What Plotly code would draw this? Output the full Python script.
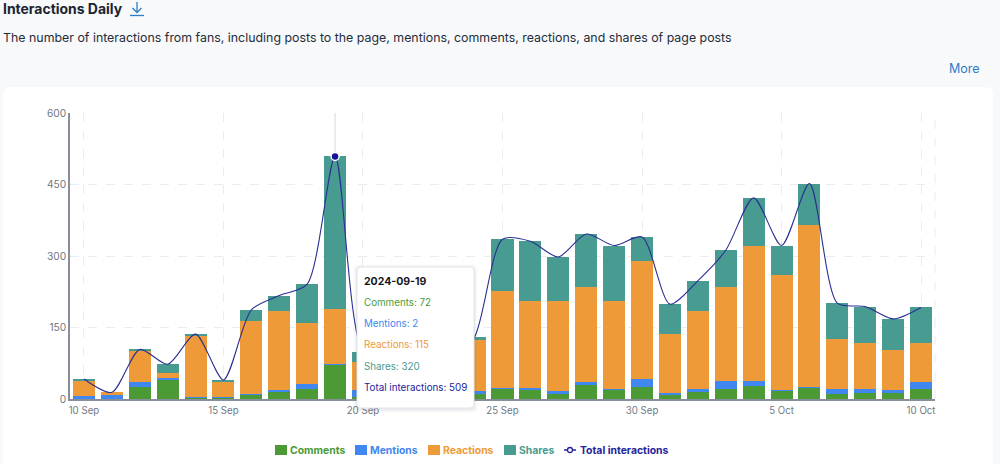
import plotly.graph_objects as go

days = ["2024-09-10", "2024-09-11", "2024-09-12", "2024-09-13", "2024-09-14", "2024-09-15",
        "2024-09-16", "2024-09-17", "2024-09-18", "2024-09-19", "2024-09-20", "2024-09-21",
        "2024-09-22", "2024-09-23", "2024-09-24", "2024-09-25", "2024-09-26", "2024-09-27",
        "2024-09-28", "2024-09-29", "2024-09-30", "2024-10-01", "2024-10-02", "2024-10-03",
        "2024-10-04", "2024-10-05", "2024-10-06", "2024-10-07", "2024-10-08", "2024-10-09",
        "2024-10-10"]

# 21-23 Sep sit behind the tooltip in the reference, those are guesses
comments = [1, 1, 26, 41, 4, 3, 9, 15, 22, 72, 5, 8, 6, 7, 11, 21, 20, 10, 31, 20, 26, 8, 14, 22, 27, 18, 24, 11, 12, 13, 22]
mentions = [6, 8, 9, 3, 1, 1, 2, 4, 10, 2, 14, 4, 3, 3, 5, 3, 4, 7, 4, 1, 15, 5, 7, 16, 10, 1, 1, 11, 9, 5, 14]
reactions = [31, 5, 66, 11, 128, 33, 152, 166, 127, 115, 58, 50, 38, 45, 108, 203, 182, 189, 199, 184, 248, 123, 164, 196, 283, 242, 339, 103, 97, 84, 82]
shares = [4, 0, 3, 18, 3, 3, 24, 32, 82, 320, 22, 15, 10, 12, 6, 108, 125, 92, 112, 117, 51, 63, 63, 78, 102, 61, 88, 76, 76, 66, 74]
totals = [42, 14, 104, 73, 136, 40, 187, 217, 241, 509, 99, 77, 57, 67, 130, 335, 331, 298, 346, 322, 340, 199, 248, 312, 422, 322, 452, 201, 194, 168, 192]

tick_days = ["2024-09-10", "2024-09-15", "2024-09-20", "2024-09-25", "2024-09-30", "2024-10-05", "2024-10-10"]
tick_labels = ["10 Sep", "15 Sep", "20 Sep", "25 Sep", "30 Sep", "5 Oct", "10 Oct"]
y_ticks = [0, 150, 300, 450, 600]

hover_day = "2024-09-19"
hover_idx = days.index(hover_day)

GREEN = "#4c9a36"
BLUE = "#4187f0"
ORANGE = "#ee9a38"
TEAL = "#489b90"
NAVY = "#2b2f93"
NAVY_TEXT = "#25249a"
LINK = "#2f7cc8"
FONT = "Inter"

W, H = 1000, 464
L, R, T, B = 70, 935, 113, 399


def px(x):
    return (x - L) / (R - L)


def py(y):
    return (B - y) / (B - T)


def round_rect(x0, y0, x1, y1, r):
    # rounded box in paper coords, given in pixels
    a, b, c, d = px(x0), px(x1), py(y0), py(y1)
    rx = r / (R - L)
    ry = r / (B - T)
    return (f"M{a + rx},{c} L{b - rx},{c} Q{b},{c} {b},{c - ry} L{b},{d + ry} Q{b},{d} {b - rx},{d} "
            f"L{a + rx},{d} Q{a},{d} {a},{d + ry} L{a},{c - ry} Q{a},{c} {a + rx},{c} Z")


fig = go.Figure()
for name, vals, col in [("Comments", comments, GREEN), ("Mentions", mentions, BLUE),
                        ("Reactions", reactions, ORANGE), ("Shares", shares, TEAL)]:
    fig.add_trace(go.Bar(x=days, y=vals, name=name, marker=dict(color=col, line_width=0)))

fig.add_trace(go.Scatter(x=days, y=totals, mode="lines", name="Total interactions",
                         line=dict(color=NAVY, width=1.1, shape="spline", smoothing=0.75)))
fig.add_trace(go.Scatter(x=[hover_day], y=[totals[hover_idx]], mode="markers",
                         marker=dict(color="#14149a", size=8, line=dict(color="white", width=1.5))))

shapes = [
    # page card
    dict(type="path", xref="paper", yref="paper", layer="below", path=round_rect(3, 87, 993, 480, 8),
         fillcolor="white", line_width=0),
    # right edge grid line
    dict(type="line", xref="paper", yref="paper", layer="below", x0=1, x1=1, y0=0, y1=1,
         line=dict(color="#e9ecf1", width=1, dash="dash")),
    # hover pointer
    dict(type="line", x0=hover_day, x1=hover_day, y0=totals[hover_idx], y1=600, layer="below",
         line=dict(color="#d5d8dd", width=1)),
    # download icon
    dict(type="line", xref="paper", yref="paper", x0=px(137), x1=px(137), y0=py(2), y1=py(12),
         line=dict(color=LINK, width=1.3)),
    dict(type="path", xref="paper", yref="paper", path=f"M{px(132.5)},{py(8)} L{px(137)},{py(12.5)} L{px(141.5)},{py(8)}",
         line=dict(color=LINK, width=1.3)),
    dict(type="line", xref="paper", yref="paper", x0=px(130), x1=px(144), y0=py(15.5), y1=py(15.5),
         line=dict(color=LINK, width=1.3)),
]
# tooltip shadow then box
for grow, alpha in [(4, 0.015), (3, 0.02), (2, 0.03), (1, 0.04)]:
    shapes.append(dict(type="path", xref="paper", yref="paper",
                       path=round_rect(357 - grow, 267 - grow + 1, 474 + grow, 408 + grow + 1, 5),
                       fillcolor=f"rgba(60,70,90,{alpha})", line_width=0))
shapes.append(dict(type="path", xref="paper", yref="paper", path=round_rect(357, 267, 474, 408, 4),
                   fillcolor="white", line=dict(color="#e3e6ea", width=1)))


def text_at(x, y, text, size, color, anchor="left"):
    return dict(xref="paper", yref="paper", x=px(x), y=py(y), text=text, showarrow=False,
                xanchor=anchor, yanchor="middle", align=anchor, borderpad=0, borderwidth=0,
                font=dict(family=FONT, size=size, color=color))


annotations = [
    text_at(3, 8, "<b>Interactions Daily</b>", 13.95, "#1c2430"),
    text_at(3, 38, "The number of interactions from fans, including posts to the page, mentions, comments, reactions, and shares of page posts", 12.38, "#252c38"),
    text_at(980, 68.5, "More", 12.5, LINK, "right"),
    text_at(364, 281, f"<b>{hover_day}</b>", 10.5, "#15181d"),
    text_at(364, 302, f"Comments: {comments[hover_idx]}", 9.8, GREEN),
    text_at(364, 323, f"Mentions: {mentions[hover_idx]}", 9.8, BLUE),
    text_at(364, 344.5, f"Reactions: {reactions[hover_idx]}", 9.8, ORANGE),
    text_at(364, 366, f"Shares: {shares[hover_idx]}", 9.8, TEAL),
    text_at(364, 387, f"Total interactions: {totals[hover_idx]}", 9.8, NAVY_TEXT),
]

# legend drawn by hand, the native one cannot get this tight
for label, col, x0 in [("Comments", GREEN, 275), ("Mentions", BLUE, 355), ("Reactions", ORANGE, 428), ("Shares", TEAL, 504)]:
    shapes.append(dict(type="rect", xref="paper", yref="paper", x0=px(x0), x1=px(x0 + 12), y0=py(445), y1=py(455),
                       fillcolor=col, line_width=0))
    annotations.append(text_at(x0 + 15, 450, f"<b>{label}</b>", 10.4, col))
shapes.append(dict(type="line", xref="paper", yref="paper", x0=px(564), x1=px(576), y0=py(450), y1=py(450),
                   line=dict(color=NAVY_TEXT, width=1.5)))
shapes.append(dict(type="circle", xref="paper", yref="paper", x0=px(567.5), x1=px(572.5), y0=py(447.5), y1=py(452.5),
                   fillcolor="white", line=dict(color=NAVY_TEXT, width=1.3)))
annotations.append(text_at(580, 450, "<b>Total interactions</b>", 10.4, NAVY_TEXT))

fig.update_layout(
    width=W, height=H, autosize=False,
    margin=dict(l=L, r=W - R, t=T, b=H - B, pad=0, autoexpand=False),
    paper_bgcolor="#f7f9fb", plot_bgcolor="rgba(0,0,0,0)",
    barmode="stack", bargap=0.21, showlegend=False,
    font=dict(family=FONT, size=11, color="#6f7882"),
    shapes=shapes, annotations=annotations,
    hovermode=False,
    xaxis=dict(type="category", categoryorder="array", categoryarray=days, range=[-0.5, 30.5],
               tickmode="array", tickvals=tick_days, ticktext=tick_labels,
               showline=True, linecolor="#87909a", linewidth=1.5,
               showgrid=True, gridcolor="#e9ecf1", griddash="dash", gridwidth=1,
               ticks="", ticklabelstandoff=2, tickfont=dict(size=9.7, color="#6f7882")),
    yaxis=dict(range=[0, 600], tickmode="array", tickvals=y_ticks,
               showline=True, linecolor="#87909a", linewidth=1.5,
               showgrid=True, gridcolor="#e9ecf1", griddash="dash", gridwidth=1,
               zeroline=False, ticks="", tickfont=dict(size=10.2, color="#6f7882")),
)

fig.write_html("out.html", config=dict(displayModeBar=False),
               post_script="document.body.style.margin='0';document.body.style.background='#f7f9fb';")
